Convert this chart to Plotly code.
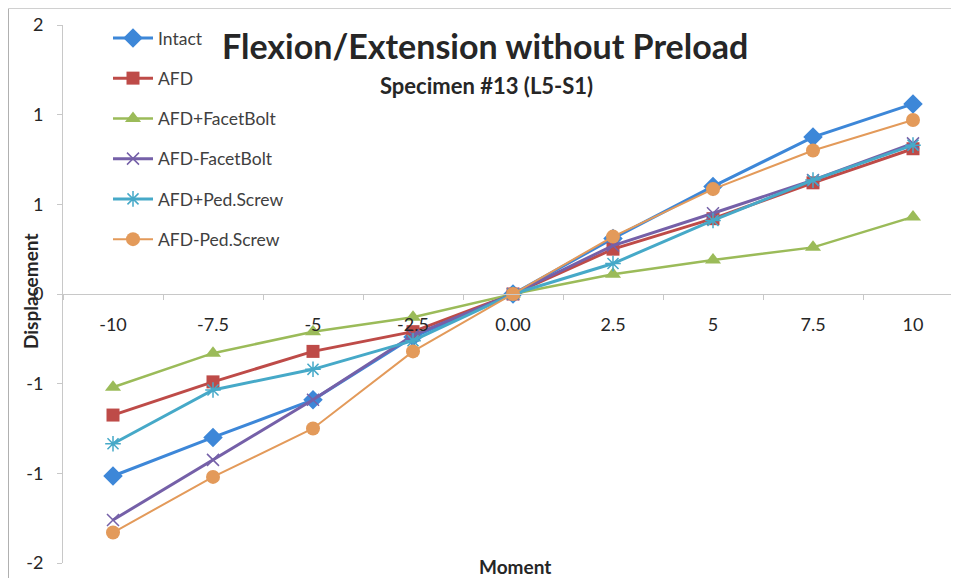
import plotly.graph_objects as go

moment = ['-10', '-7.5', '-5', '-2.5', '0.00', '2.5', '5', '7.5', '10']

intact = [-1.015, -0.80, -0.59, -0.24, 0.0, 0.31, 0.60, 0.875, 1.06]
afd = [-0.675, -0.49, -0.32, -0.21, 0.0, 0.25, 0.42, 0.62, 0.81]
afd_fb_plus = [-0.52, -0.33, -0.21, -0.13, 0.0, 0.11, 0.19, 0.26, 0.43]
afd_fb_minus = [-1.26, -0.925, -0.59, -0.23, 0.0, 0.27, 0.45, 0.635, 0.84]
afd_ps_plus = [-0.835, -0.535, -0.42, -0.26, 0.0, 0.17, 0.41, 0.635, 0.83]
afd_ps_minus = [-1.33, -1.02, -0.75, -0.32, 0.0, 0.32, 0.585, 0.80, 0.97]

y_tickvals = [-1.5, -1.0, -0.5, 0.0, 0.5, 1.0, 1.5]
y_ticktext = ['-2', '-1', '-1', '0', '1', '1', '2']

series = [
    ('Intact', intact, '#3d87d8', dict(symbol='diamond', size=15), 3),
    ('AFD', afd, '#be4b48', dict(symbol='square', size=13), 3),
    ('AFD+FacetBolt', afd_fb_plus, '#9bbb59', dict(symbol='triangle-up', size=14), 2.5),
    ('AFD-FacetBolt', afd_fb_minus, '#7560a8', dict(symbol='x-thin-open', size=12, line=dict(width=1.5, color='#a398d0')), 3),
    ('AFD+Ped.Screw', afd_ps_plus, '#46a9c8', dict(symbol='asterisk-open', size=13, line=dict(width=1.5, color='#46a9c8')), 3),
    ('AFD-Ped.Screw', afd_ps_minus, '#e39a5a', dict(symbol='circle', size=14), 2),
]

# the page body adds an 8px offset; figure coordinates = page coordinates - 8
W, H = 951, 570
L, T, B = 55, 17, 15
PW, PH = W - L, H - T - B


def px(xp):
    return (xp - 8 - L) / PW


def py(yp):
    return 1 - (yp - 8 - T) / PH


fig = go.Figure()
for i, (name, vals, color, mk, lw) in enumerate(series):
    m = dict(color=color)
    m.update(mk)
    fig.add_trace(go.Scatter(
        x=moment, y=vals, name=name, mode='lines+markers',
        line=dict(color=color, width=lw), marker=m,
        legendgroup=f'g{i}',
    ))

fig.update_layout(
    width=W, height=H,
    margin=dict(l=L, r=0, t=T, b=B),
    paper_bgcolor='white', plot_bgcolor='white',
    font=dict(family='Lato, Carlito, Calibri, sans-serif', size=15, color='#333333'),
    showlegend=True,
    legend=dict(
        x=px(108), y=py(20), xanchor='left', yanchor='top',
        bgcolor='rgba(0,0,0,0)', font=dict(size=17.5, color='#404040'),
        tracegroupgap=14.5, itemwidth=40,
    ),
    xaxis=dict(
        type='category', range=[-0.5, 8.46],
        anchor='free', position=0.5,
        showline=True, linecolor='#c8c8c8', linewidth=1,
        ticks='outside', ticklen=5, tickcolor='#c8c8c8', tickson='boundaries',
        ticklabelstandoff=14,
        showgrid=False, zeroline=False,
        tickfont=dict(size=18, color='#262626'),
    ),
    yaxis=dict(
        range=[-1.5, 1.5], tickvals=y_tickvals, ticktext=y_ticktext,
        showline=True, linecolor='#c8c8c8', linewidth=1,
        ticks='outside', ticklen=5, tickcolor='#c8c8c8',
        ticklabelstandoff=10,
        showgrid=False, zeroline=False,
        tickfont=dict(size=18, color='#262626'),
    ),
    annotations=[
        dict(text='<b>Flexion/Extension without Preload</b>', xref='paper', yref='paper',
             x=px(485), y=py(45), xanchor='center', yanchor='middle',
             showarrow=False, font=dict(size=34, color='#262626')),
        dict(text='<b>Specimen #13 (L5-S1)</b>', xref='paper', yref='paper',
             x=px(486), y=py(85), xanchor='center', yanchor='middle',
             showarrow=False, font=dict(size=22, color='#262626')),
        dict(text='<b>Displacement</b>', xref='paper', yref='paper',
             x=px(30), y=py(292), xanchor='center', yanchor='middle',
             textangle=-90, showarrow=False, font=dict(size=19, color='#262626')),
        dict(text='<b>Moment</b>', xref='paper', yref='paper',
             x=px(515), y=py(566), xanchor='center', yanchor='middle',
             showarrow=False, font=dict(size=19, color='#262626')),
    ],
    shapes=[
        dict(type='line', xref='paper', yref='paper',
             x0=px(8.5), x1=px(8.5), y0=py(8.5), y1=py(578),
             line=dict(color='#b0b0b0', width=1)),
        dict(type='line', xref='paper', yref='paper',
             x0=px(8.5), x1=1, y0=py(8.5), y1=py(8.5),
             line=dict(color='#d0d0d0', width=1)),
    ],
)

fig.write_html('out.html')
